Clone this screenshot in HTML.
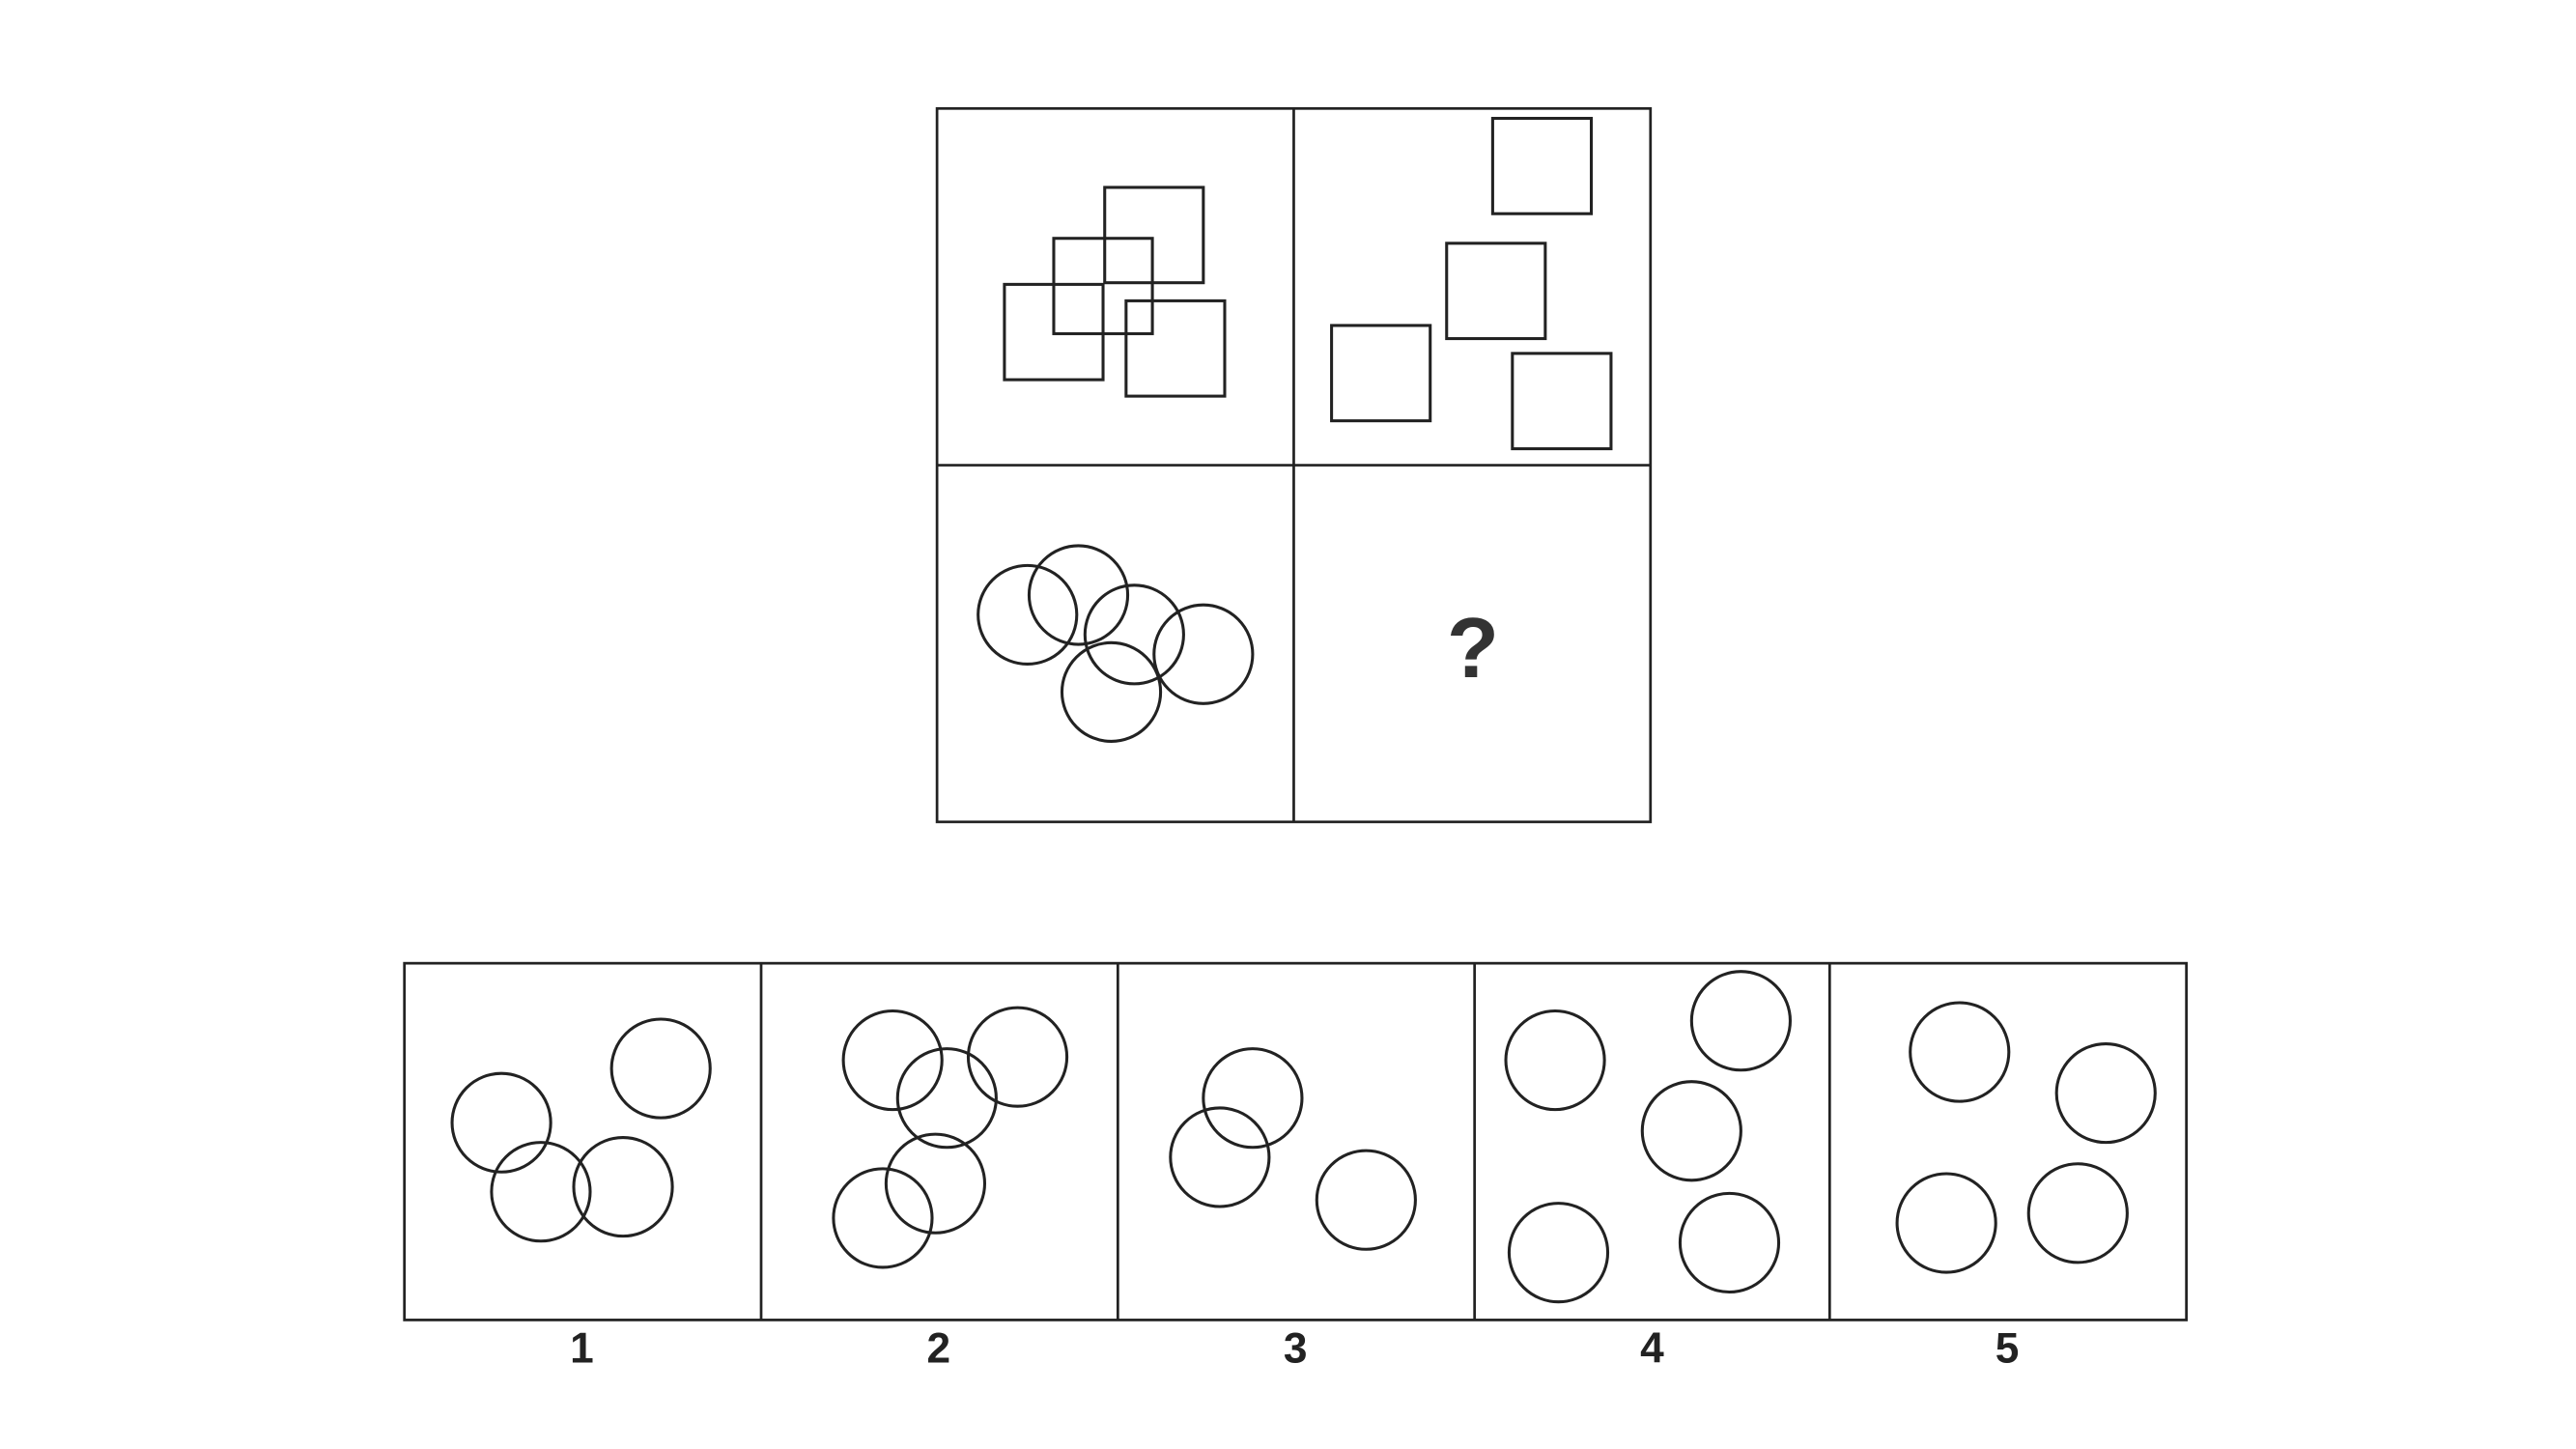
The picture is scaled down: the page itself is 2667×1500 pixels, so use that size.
<!DOCTYPE html>
<html><head><meta charset="utf-8"><style>
html,body{margin:0;padding:0;background:#fff;width:2667px;height:1500px;overflow:hidden}
svg{display:block}
</style></head><body>
<svg id="s" width="2667" height="1500" viewBox="0 0 1567 881.5" preserveAspectRatio="none" xmlns="http://www.w3.org/2000/svg">
<rect width="1567" height="881.5" fill="#fff"/>
<g fill="none" stroke="#222" stroke-width="1.6">
<rect x="570" y="66" width="434" height="434"/>
<line x1="787" y1="66" x2="787" y2="500"/>
<line x1="570" y1="283" x2="1004" y2="283"/>
<rect x="246" y="586" width="1084" height="217"/>
<line x1="463" y1="586" x2="463" y2="803"/>
<line x1="680" y1="586" x2="680" y2="803"/>
<line x1="897" y1="586" x2="897" y2="803"/>
<line x1="1113" y1="586" x2="1113" y2="803"/>
</g>
<g id="shapes" fill="none" stroke="#222" stroke-width="1.8"></g>
<text x="896" y="412" text-anchor="middle" font-family="Liberation Sans, sans-serif" font-weight="bold" font-size="52" fill="#333">?</text>
<g id="labels" font-family="Liberation Sans, sans-serif" font-weight="bold" font-size="26" fill="#222" text-anchor="middle"></g>
</svg>
<script>
const squaresA=[[611,173],[641,145],[672,114],[685,183]];
const squaresB=[[908,72],[880,148],[810,198],[920,215]];
const circlesC=[[625,374],[656,362],[690,386],[732,398],[676,421]];
const options=[
 [[305,683],[402,650],[329,725],[379,722]],
 [[543,645],[619,643],[576,668],[569,720],[537,741]],
 [[762,668],[742,704],[831,730]],
 [[946,645],[1059,621],[1029,688],[948,762],[1052,756]],
 [[1192,640],[1281,665],[1184,744],[1264,738]]
];
const optionLabels=["1","2","3","4","5"];
const labelX=[354,571,788,1005,1221];
const NS="http://www.w3.org/2000/svg";
const g=document.getElementById('shapes');
function sq(p){const r=document.createElementNS(NS,'rect');
r.setAttribute('x',p[0]);r.setAttribute('y',p[1]);r.setAttribute('width',60);r.setAttribute('height',58);


g.appendChild(r);}
function ci(p){const c=document.createElementNS(NS,'circle');
c.setAttribute('cx',p[0]);c.setAttribute('cy',p[1]);c.setAttribute('r',30);


g.appendChild(c);}
squaresA.forEach(sq);squaresB.forEach(sq);circlesC.forEach(ci);
options.forEach(o=>o.forEach(ci));
const lg=document.getElementById('labels');
optionLabels.forEach((t,i)=>{const e=document.createElementNS(NS,'text');
e.setAttribute('x',labelX[i]);e.setAttribute('y',829);e.textContent=t;


lg.appendChild(e);});
</script>
</body></html>
